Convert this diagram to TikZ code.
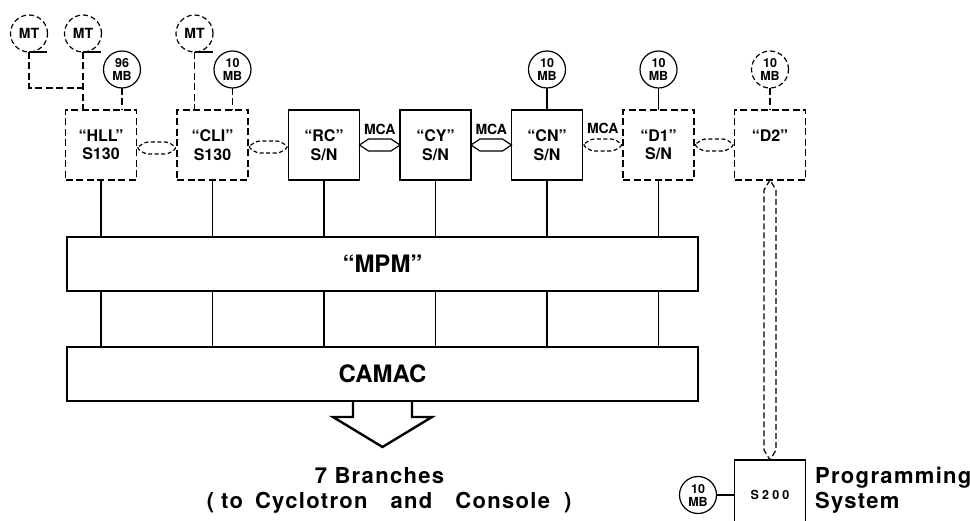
\documentclass[tikz,border=0pt]{standalone}
\usepackage{fontspec}
\setmainfont{TeX Gyre Heros}
\newfontfamily\widefont[LetterSpace=6]{TeX Gyre Heros}
\newfontfamily\spacedfont[LetterSpace=25]{TeX Gyre Heros}
\usetikzlibrary{positioning}

\begin{document}
\begin{tikzpicture}[
  x=1pt, y=-1pt,
  line width=1.2pt,
  node distance=40.5pt,
  font=\bfseries,
  dline/.style={dash pattern=on 7pt off 3.5pt},
  cpu/.style={draw, minimum width=71pt, minimum height=70pt,
              inner sep=0pt, outer sep=0pt, align=center,
              font=\fontsize{16}{18.5}\selectfont\bfseries},
  cpuopt/.style={cpu, dline},
  disc/.style={draw, circle, minimum size=37pt, inner sep=0pt,
               outer sep=0pt, align=center,
               font=\fontsize{12.5}{13}\selectfont\bfseries},
  tape/.style={disc, dash pattern=on 5pt off 3pt,
               font=\fontsize{14}{16}\selectfont\bfseries},
  bus/.style={draw, minimum width=631pt, minimum height=54pt,
              inner sep=0pt, outer sep=0pt,
              font=\fontsize{24}{26}\selectfont\bfseries},
  lens/.style={to path={-- ++(9pt,6pt) -- ([shift={(-9pt,6pt)}]\tikztotarget)
               -- (\tikztotarget) -- ++(-9pt,-6pt)
               -- ([shift={(9pt,-6pt)}]\tikztostart) -- cycle}},
  lensopt/.style={lens, dash pattern=on 4pt off 2.5pt, rounded corners=3pt},
  mca/.style={inner sep=0pt, font=\fontsize{14}{16}\selectfont\bfseries},
  bigtxt/.style={inner sep=0pt, font=\fontsize{22}{25}\selectfont\widefont\bfseries}
]
\useasboundingbox (0,0) rectangle (970,521);

% processors
\node[cpuopt] (hll) at (101,145) {“HLL”\\S130};
\node[cpuopt, right=of hll] (cli) {“CLI”\\S130};
\node[cpu, right=of cli] (rc) {“RC”\\S/N};
\node[cpu, right=of rc] (cy) {“CY”\\S/N};
\node[cpu, right=of cy] (cn) {“CN”\\S/N};
\node[cpuopt, right=of cn] (d1) {“D1”\\S/N};
\node[cpuopt, right=of d1] (d2) {“D2”\\\phantom{S/N}};

% discs and tapes
\node[disc, above=22pt of hll.north, xshift=21pt] (mbhll) {96\\MB};
\node[disc, above=22pt of cli.north, xshift=20pt] (mbcli) {10\\MB};
\node[disc, above=22pt of cn.north] (mbcn) {10\\MB};
\node[disc, above=22pt of d1.north] (mbd1) {10\\MB};
\node[disc, dash pattern=on 5pt off 3pt, above=22pt of d2.north] (mbd2) {10\\MB};
\node[tape, above=58pt of hll.north, xshift=-18pt] (mthllb) {MT};
\node[tape, left=17pt of mthllb] (mthlla) {MT};
\node[tape, above=58pt of cli.north, xshift=-18pt] (mtcli) {MT};

% buses
\node[bus, anchor=north west] (mpm) at ([shift={(1.5pt,-57pt)}]hll.south west) {“MPM”};
\node[bus, below=56pt of mpm] (camac) {CAMAC};

% programming system
\node[cpu, minimum height=70pt, below=280pt of d2,
      font=\fontsize{12.5}{14}\selectfont\spacedfont\bfseries] (s200) {S200};
\node[disc, left=18pt of s200] (mbs200) {10\\MB};
\node[bigtxt, align=left, right=9pt of s200, yshift=5pt] (prog) {Programming\\System};

% links between processors
\draw[lensopt] ([yshift=-3pt]hll.east) to ([yshift=-3pt]cli.west);
\draw[lensopt] ([yshift=-2pt]cli.east) to ([yshift=-2pt]rc.west);
\draw[lens] (rc.east) to (cy.west);
\draw[lens] (cy.east) to (cn.west);
\draw[lensopt] (cn.east) to (d1.west);
\draw[lensopt] (d1.east) to (d2.west);
\path (rc.east) -- node[mca, above=10pt] (mca1) {MCA} (cy.west);
\path (cy.east) -- node[mca, above=10pt] (mca2) {MCA} (cn.west);
\path (cn.east) -- node[mca, above=11pt] (mca3) {MCA} (d1.west);

% discs and tapes to processors
\draw[dline] (mbhll) -- (mbhll |- hll.north);
\draw[dline] (mbcli) -- (mbcli |- cli.north);
\draw (mbcn) -- (cn);
\draw (mbd1) -- (d1);
\draw[dline] (mbd2) -- (d2);
\draw[dline] (mthllb.south) -- (mthllb.south |- hll.north);
\draw[dline] (mthlla.south) |- (mbhll.south -| mthllb.south);
\draw[dline] (mtcli.south) -- (mtcli.south |- cli.north);
\draw (mthlla.south) -- ++(18pt,0pt);
\draw (mthllb.south) -- ++(18pt,0pt);
\draw (mtcli.south) -- ++(18pt,0pt);

% processors to MPM to CAMAC
\draw (hll.south) -- (hll |- mpm.north) (hll |- mpm.south) -- (hll |- camac.north);
\draw (cli.south) -- (cli |- mpm.north) (cli |- mpm.south) -- (cli |- camac.north);
\draw (rc.south) -- (rc |- mpm.north) (rc |- mpm.south) -- (rc |- camac.north);
\draw (cy.south) -- (cy |- mpm.north) (cy |- mpm.south) -- (cy |- camac.north);
\draw (cn.south) -- (cn |- mpm.north) (cn |- mpm.south) -- (cn |- camac.north);
\draw (d1.south) -- (d1 |- mpm.north) (d1 |- mpm.south) -- (d1 |- camac.north);

% branches
\draw[line width=2.4pt] ([xshift=-29.5pt]camac.south) -- ++(0pt,-16pt) -- ++(-20pt,0pt)
  -- ([yshift=-46pt]camac.south) -- ++(49.5pt,30pt) -- ++(-20pt,0pt) -- ++(0pt,16pt);
\node[bigtxt, below=66pt of camac, xshift=-3pt] (branches) {7 Branches};
\node[bigtxt, anchor=north west] (dest) at ([shift={(-108pt,-7pt)}]branches.south west)
  {(\hspace{7pt}to\hspace{12pt}Cyclotron\hspace{23pt}and\hspace{23pt}Console\hspace{14pt})};

% D2 to S200
\draw[dash pattern=on 6pt off 3pt] (d2.south) -- ++(-6pt,-10pt)
  -- ([shift={(-6pt,10pt)}]s200.north) -- (s200.north) -- ++(6pt,10pt)
  -- ([shift={(6pt,-10pt)}]d2.south) -- cycle;
\draw (mbs200) -- (s200);
\end{tikzpicture}
\end{document}
